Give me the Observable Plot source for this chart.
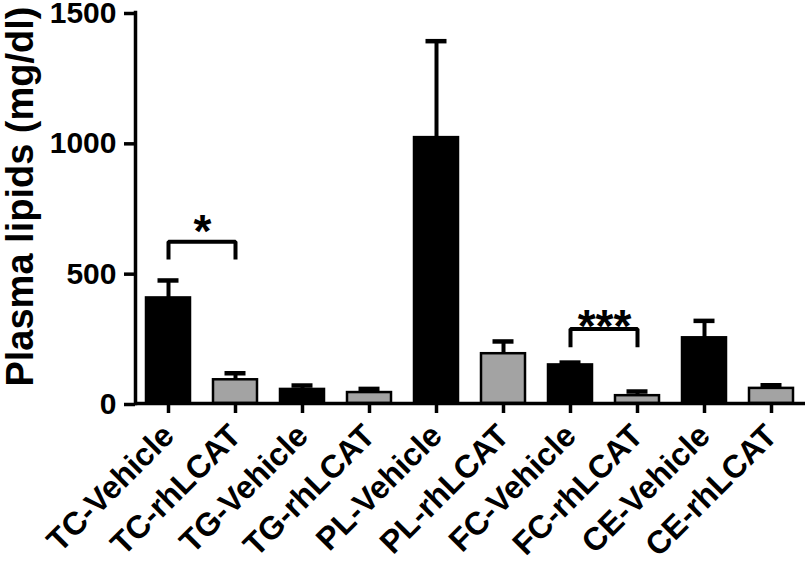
<!DOCTYPE html>
<html>
<head>
<meta charset="utf-8">
<script src="https://cdn.jsdelivr.net/npm/d3@7"></script>
<script src="https://cdn.jsdelivr.net/npm/@observablehq/plot@0.6"></script>
<style>
  html, body { margin: 0; padding: 0; background: #fff; }
  svg { display: block; }
</style>
</head>
<body>
<div id="chart"></div>
<script>
// ---- data ----
const categories = ["TC-Vehicle", "TC-rhLCAT", "TG-Vehicle", "TG-rhLCAT", "PL-Vehicle",
                    "PL-rhLCAT", "FC-Vehicle", "FC-rhLCAT", "CE-Vehicle", "CE-rhLCAT"];
const treatments = ["Vehicle", "rhLCAT", "Vehicle", "rhLCAT", "Vehicle",
                    "rhLCAT", "Vehicle", "rhLCAT", "Vehicle", "rhLCAT"];
const means = [405, 91, 54, 42, 1020, 191, 148, 30, 252, 58];
const errors = [67, 25, 15, 14, 370, 47, 9, 16, 65, 12];
const yTicks = [0, 500, 1000, 1500];

// significance brackets: from, to, bracket top, leg bottom, label, label baseline
const sigFrom = ["TC-Vehicle", "FC-Vehicle"];
const sigTo = ["TC-rhLCAT", "FC-rhLCAT"];
const sigTop = [621, 286];
const sigLeg = [552, 216];
const sigLabel = ["*", "***"];
const sigLabelY = [600, 236];

const rows = categories.map((c, i) => ({
  name: c, treatment: treatments[i], mean: means[i], hi: means[i] + errors[i]
}));
const bracketPts = sigFrom.flatMap((f, i) => [
  {g: i, x: f, y: sigLeg[i]},
  {g: i, x: f, y: sigTop[i]},
  {g: i, x: sigTo[i], y: sigTop[i]},
  {g: i, x: sigTo[i], y: sigLeg[i]}
]);
const sigRows = sigFrom.map((f, i) => ({x: f, y: sigLabelY[i], label: sigLabel[i]}));

const FONT = "'Liberation Sans', Arial, Helvetica, sans-serif";

const chart = Plot.plot({
  width: 810,
  height: 567,
  marginLeft: 135,
  marginRight: 5,
  marginTop: 12,
  marginBottom: 164,
  style: {fontFamily: FONT, fontWeight: "bold", fontSize: "31px", background: "white", color: "black"},
  x: {domain: categories, paddingInner: 0.34, paddingOuter: 0.17, align: 0.5},
  y: {domain: [0, 1500]},
  color: {domain: ["Vehicle", "rhLCAT"], range: ["#000000", "#a3a3a3"]},
  marks: [
    Plot.barY(rows, {x: "name", y: "mean", fill: d => d.treatment,
                     stroke: "black", strokeWidth: 2.5}),
    Plot.ruleX(rows, {x: "name", y1: "mean", y2: "hi", stroke: "black", strokeWidth: 4}),
    Plot.tickY(rows, {x: "name", y: "hi", stroke: "black", strokeWidth: 4.5,
                      inset: 11.5}),
    Plot.line(bracketPts, {x: "x", y: "y", z: "g", stroke: "black", strokeWidth: 4,
                           strokeLinejoin: "miter", strokeLinecap: "butt"}),
    Plot.text(sigRows, {x: "x", y: "y", text: "label", dx: 34, lineAnchor: "bottom",
                        fontSize: 46, fontWeight: "bold", letterSpacing: "2px", fill: "black"}),
    Plot.axisY({ticks: yTicks, tickFormat: d => String(d), tickSize: 11, tickPadding: 8,
                fontSize: 30, dy: 1, strokeWidth: 3.5, label: null}),
    Plot.axisX({tickSize: 10, tickPadding: 17, tickRotate: -45, fontSize: 32,
                strokeWidth: 3.5, label: null}),
    Plot.ruleY([0], {stroke: "black", strokeWidth: 3.5}),
    Plot.frame({anchor: "left", stroke: "black", strokeWidth: 3.5}),
    Plot.text(["Plasma lipids (mg/dl)"], {frameAnchor: "top-left", rotate: -90,
              textAnchor: "end", lineAnchor: "bottom", dx: -103, dy: -6,
              fontSize: 38, fontWeight: "bold", fill: "black"})
  ]
});
document.getElementById("chart").appendChild(chart);
</script>
</body>
</html>
